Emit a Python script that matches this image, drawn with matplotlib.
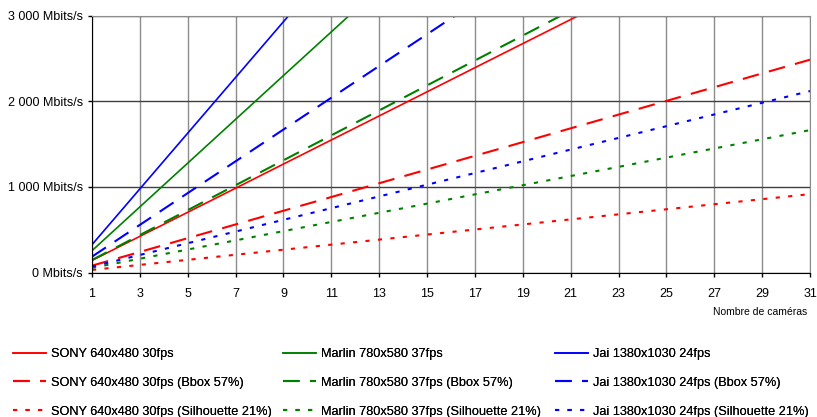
import matplotlib.pyplot as plt
from matplotlib.ticker import FuncFormatter

plt.rcParams['font.family'] = ['Liberation Sans', 'DejaVu Sans']

# nombre de caméras
cameras = [1, 3, 5, 7, 9, 11, 13, 15, 17, 19, 21, 23, 25, 27, 29, 31]

# débit total en Mbits/s
sony = [141, 422, 703, 984, 1266, 1547, 1828, 2109, 2391, 2672, 2953, 3234, 3516, 3797, 4078, 4359]
marlin = [255, 766, 1277, 1788, 2299, 2809, 3320, 3831, 4342, 4853, 5363, 5874, 6385, 6896, 7407, 7917]
jai = [325, 976, 1627, 2277, 2928, 3578, 4229, 4880, 5530, 6181, 6831, 7482, 8133, 8783, 9434, 10084]

sony_bbox = [80, 240, 401, 561, 721, 881, 1042, 1202, 1362, 1522, 1683, 1843, 2003, 2163, 2324, 2484]
marlin_bbox = [146, 437, 728, 1019, 1310, 1601, 1892, 2184, 2475, 2766, 3057, 3348, 3640, 3931, 4222, 4513]
jai_bbox = [185, 556, 927, 1298, 1669, 2040, 2411, 2781, 3152, 3523, 3894, 4265, 4636, 5006, 5377, 5748]

sony_sil = [30, 89, 148, 207, 266, 325, 384, 443, 502, 561, 620, 679, 738, 797, 856, 915]
marlin_sil = [54, 161, 268, 375, 483, 590, 697, 804, 912, 1019, 1126, 1233, 1341, 1448, 1555, 1662]
jai_sil = [68, 205, 342, 478, 615, 751, 888, 1025, 1161, 1298, 1435, 1571, 1708, 1845, 1981, 2118]

y_ticks = [0, 1000, 2000, 3000]

series = [
    ("SONY 640x480 30fps", sony, "#ff0000", "-"),
    ("SONY 640x480 30fps (Bbox 57%)", sony_bbox, "#ff0000", (0, (8, 5))),
    ("SONY 640x480 30fps (Silhouette 21%)", sony_sil, "#ff0000", (0, (2, 4))),
    ("Marlin 780x580 37fps", marlin, "#008000", "-"),
    ("Marlin 780x580 37fps (Bbox 57%)", marlin_bbox, "#008000", (0, (8, 5))),
    ("Marlin 780x580 37fps (Silhouette 21%)", marlin_sil, "#008000", (0, (2, 4))),
    ("Jai 1380x1030 24fps", jai, "#0000ff", "-"),
    ("Jai 1380x1030 24fps (Bbox 57%)", jai_bbox, "#0000ff", (0, (8, 5))),
    ("Jai 1380x1030 24fps (Silhouette 21%)", jai_sil, "#0000ff", (0, (2, 4))),
]

fig = plt.figure(figsize=(8.17, 4.17), dpi=100)
ax = fig.add_axes([92 / 817, 1 - 272.5 / 417, (810 - 92) / 817, (272.5 - 15.5) / 417])

lines = []
for label, vals, color, ls in series:
    lw = 1.2 if ls == "-" else 1.5
    (ln,) = ax.plot(cameras, vals, color=color, linestyle=ls, linewidth=lw, label=label)
    lines.append(ln)

ax.set_xlim(1, 31)
ax.set_ylim(0, 3000)
ax.set_xticks(cameras)
ax.set_yticks(y_ticks)
ax.yaxis.set_major_formatter(FuncFormatter(lambda v, p: f"{int(v):,}".replace(",", " ") + " Mbits/s"))
ax.tick_params(labelsize=9, length=3, width=1, colors="black", direction="out")
ax.tick_params(axis="x", pad=8)

ax.grid(axis="x", color="#8c8c8c", linewidth=1)
ax.grid(axis="y", color="#404040", linewidth=1)
ax.set_axisbelow(True)
for side in ("top", "right"):
    ax.spines[side].set_color("#8c8c8c")
for side in ("left", "bottom"):
    ax.spines[side].set_color("black")

fig.text(807 / 817, 1 - 312 / 417, "Nombre de caméras", ha="right", va="center", fontsize=7.5)

# une légende par caméra, placées à la main
for i, x0 in enumerate([13, 283, 555]):
    leg = fig.legend(handles=lines[3 * i:3 * i + 3], loc="upper left",
                     bbox_to_anchor=(x0 / 817, 1 - 348 / 417), frameon=False,
                     fontsize=9.2, handlelength=2.6, handletextpad=0.4,
                     labelspacing=1.32, borderpad=0, borderaxespad=0)
    fig.add_artist(leg)

fig.savefig("out.png", dpi=100)
